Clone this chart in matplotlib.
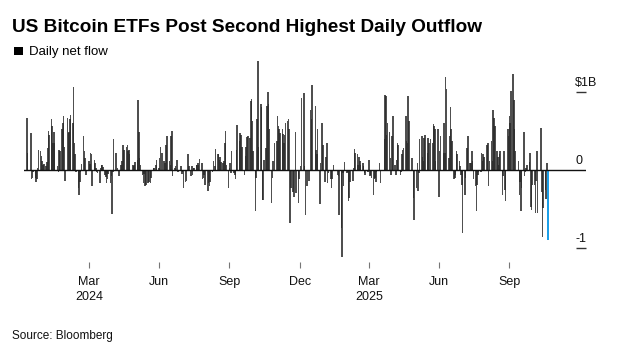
import matplotlib
matplotlib.use("Agg")
import matplotlib.pyplot as plt
import matplotlib.dates as mdates
from matplotlib.patches import Rectangle
from matplotlib.transforms import blended_transform_factory
import pandas as pd
import numpy as np

# ---- Daily net flow, $B, per month (trading days) ----
flows_2024_01 = [0.67, 0.22, 0.47, -0.12, -0.10, -0.02, -0.10, -0.15, -0.12, 0.02, 0.25, 0.24, 0.18, 0.12]
flows_2024_02 = [0.07, 0.08, 0.05, 0.10, 0.28, 0.50, 0.45, 0.65, 0.56, 0.35, 0.49, 0.34, 0.05, -0.02, 0.26, 0.24, 0.53, 0.60, 0.69, 0.30]
flows_2024_03 = [-0.14, 0.67, 0.47, 0.49, 0.65, 0.70, 0.60, 1.06, 0.35, 0.20, -0.02, -0.23, -0.32, -0.15, -0.03, 0.08, 0.43, 0.24, 0.15, -0.06]
flows_2024_04 = [0.11, 0.08, 0.22, 0.20, -0.21, 0.13, 0.09, 0.03, -0.02, -0.04, -0.16, 0.03, 0.06, 0.07, 0.04, -0.06, -0.09, -0.16, -0.12, -0.05, -0.16, -0.08]
flows_2024_05 = [-0.56, -0.02, 0.39, 0.22, 0.00, 0.02, -0.01, -0.08, 0.07, 0.11, 0.32, 0.26, 0.25, 0.30, 0.32, 0.24, 0.26, 0.20, 0.06, 0.05, 0.06, 0.10]
flows_2024_06 = [0.13, 0.89, 0.49, 0.15, 0.07, -0.06, -0.17, -0.05, -0.20, -0.19, -0.17, -0.15, -0.17, -0.10, 0.03, 0.02, 0.00, 0.07, 0.13]
flows_2024_07 = [0.03, 0.15, 0.30, 0.22, 0.11, 0.09, 0.32, 0.32, 0.43, 0.11, 0.07, 0.44, 0.50, -0.08, 0.03, 0.05, 0.00, 0.13, -0.02, 0.00, 0.05, -0.05]
flows_2024_08 = [-0.02, -0.23, -0.15, -0.14, 0.00, 0.20, 0.05, -0.08, 0.05, -0.07, 0.03, 0.03, 0.07, 0.07, 0.09, 0.07, 0.14, 0.09, -0.12, -0.10, -0.07, -0.19]
flows_2024_09 = [-0.27, -0.17, -0.21, -0.15, -0.03, 0.12, 0.00, 0.05, 0.27, 0.20, 0.20, 0.13, 0.17, 0.10, 0.09, 0.11, 0.35, 0.50, 0.07, -0.23]
flows_2024_10 = [0.03, 0.09, -0.04, 0.24, -0.04, -0.06, -0.11, 0.26, 0.57, 0.37, 0.47, 0.45, 0.30, 0.30, -0.07, 0.18, 0.30, 0.42, 0.43, 0.41, 0.88, 0.91, 0.62]
flows_2024_11 = [0.24, -0.53, -0.10, 0.65, 1.39, 0.30, 0.84, 0.81, -0.38, -0.38, 0.13, 0.28, 0.82, 1.00, 0.84, 0.52, -0.42, -0.10, 0.11, 0.35]
flows_2024_12 = [0.37, 0.69, 0.56, 0.52, 0.47, 0.52, 0.46, 0.35, 0.45, 0.60, 0.62, 0.65, 0.52, -0.68, -0.23, -0.28, -0.34, 0.49, -0.29, -0.42, -0.12]
flows_2025_01 = [0.05, 0.92, 0.98, 0.05, -0.57, -0.21, -0.14, 0.00, 0.77, 0.65, 1.09, 0.82, 0.26, 0.20, 0.53, -0.44, 0.09, 0.00, 0.60, 0.32]
flows_2025_02 = [-0.15, 0.17, 0.35, -0.17, -0.04, -0.12, -0.23, -0.12, 0.00, 0.07, 0.00, -0.06, -0.08, -0.57, -0.74, -1.11, -0.04, -0.21, 0.10]
flows_2025_03 = [-0.04, -0.02, -0.40, -0.36, -0.15, 0.00, -0.14, 0.03, 0.27, 0.22, 0.20, 0.07, 0.17, 0.11, 0.07, 0.09, 0.05, -0.04, -0.06, 0.00, -0.03]
flows_2025_04 = [0.13, -0.08, -0.06, -0.10, -0.32, -0.12, -0.10, -0.15, -0.02, 0.00, 0.09, -0.16, 0.00, 0.39, 0.96, 0.94, 0.45, 0.60, 0.49, 0.15, -0.06]
flows_2025_05 = [0.43, 0.69, 0.07, -0.06, 0.13, 0.35, 0.32, -0.07, -0.02, 0.20, 0.26, 0.28, 0.69, 0.37, 0.35, 0.94, 0.62, 0.15, 0.00, -0.36, -0.64]
flows_2025_06 = [-0.23, 0.09, -0.27, -0.04, 0.39, 0.44, 0.17, 0.11, 0.41, 0.45, 0.22, 0.41, 0.35, 0.39, 0.35, 0.59, 0.56, 0.52, 0.11, 0.52]
flows_2025_07 = [-0.34, 0.24, 0.43, 0.22, 0.60, 0.22, 1.19, 1.04, 0.15, 0.43, 0.81, 0.52, 0.37, -0.12, -0.10, -0.06, 0.24, 0.20, 0.11, 0.05, -0.06, -0.19]
flows_2025_08 = [-0.81, -0.32, -0.10, 0.00, 0.28, 0.43, 0.09, 0.09, 0.24, 0.11, -0.12, -0.21, -0.53, -0.19, -0.06, -0.02, -0.02, 0.22, 0.11, 0.20, 0.17]
flows_2025_09 = [0.32, 0.35, -0.21, 0.11, 0.37, 0.11, 0.77, 0.66, 0.56, 0.24, 0.17, 0.07, 0.20, 0.24, -0.32, -0.08, 0.24, -0.25, -0.40, 0.52, 0.43]
flows_2025_10 = [0.69, 0.60, 1.01, 1.22, 0.90, 0.52, 0.24, 0.00, 0.11, -0.32, -0.15, -0.52, -0.23, 0.49, -0.08, -0.02, 0.03, 0.07, 0.10, 0.22, -0.47, -0.51, -0.19]
flows_2025_11 = [-0.19, -0.55, -0.14, 0.24, -0.55, 0.00, 0.54, -0.28, -0.86, -0.49, -0.25, -0.37, 0.09, -0.89]

monthly = [flows_2024_01, flows_2024_02, flows_2024_03, flows_2024_04, flows_2024_05,
           flows_2024_06, flows_2024_07, flows_2024_08, flows_2024_09, flows_2024_10,
           flows_2024_11, flows_2024_12, flows_2025_01, flows_2025_02, flows_2025_03,
           flows_2025_04, flows_2025_05, flows_2025_06, flows_2025_07, flows_2025_08,
           flows_2025_09, flows_2025_10, flows_2025_11]

start_date = "2024-01-11"
end_date = "2025-11-20"
market_holidays = ["2024-01-15", "2024-02-19", "2024-03-29", "2024-05-27", "2024-06-19",
                   "2024-07-04", "2024-09-02", "2024-11-28", "2024-12-25",
                   "2025-01-01", "2025-01-09", "2025-01-20", "2025-02-17", "2025-04-18",
                   "2025-05-26", "2025-06-19", "2025-07-04", "2025-09-01"]

tick_dates = ["2024-04-01", "2024-07-01", "2024-10-01", "2025-01-01",
              "2025-04-01", "2025-07-01", "2025-10-01"]
tick_labels = ["Mar\n2024", "Jun", "Sep", "Dec", "Mar\n2025", "Jun", "Sep"]

ytick_values = [1, 0, -1]
ytick_labels = ["$1B", "0", "-1"]

title = "US Bitcoin ETFs Post Second Highest Daily Outflow"
legend_label = "Daily net flow"
source = "Source: Bloomberg"

# ---- build series ----
days = pd.bdate_range(start_date, end_date)
days = days[~days.isin(pd.to_datetime(market_holidays))]
values = []
for (y, m), grp in zip(sorted(set((d.year, d.month) for d in days)), monthly):
    n = ((days.year == y) & (days.month == m)).sum()
    if n != len(grp):
        raise ValueError(f"{y}-{m}: {n} days vs {len(grp)} values")
    values.extend(grp)
values = np.array(values)

W, H = 640, 356
fig = plt.figure(figsize=(W / 100, H / 100), dpi=100)
plt.rcParams['font.family'] = ['Liberation Sans', 'DejaVu Sans']

ax_left_px, ax_right_px = 24, 586
ax_top_px, ax_bot_px = 58, 262
ax = fig.add_axes([ax_left_px / W, 1 - ax_bot_px / H,
                   (ax_right_px - ax_left_px) / W, (ax_bot_px - ax_top_px) / H])

bar_color = "#2a2a2a"
highlight = "#1c9fe8"
ax.bar(days[:-1], values[:-1], width=2.0, color=bar_color, alpha=0.82, linewidth=0, zorder=2)
ax.bar(days[-1:], values[-1:], width=2.3, color=highlight, linewidth=0, zorder=2.5)
ax.axhline(0, color="#111111", lw=1.0, zorder=3)

d0 = mdates.date2num(pd.Timestamp(start_date))
px_per_day = 0.767
first_px = 26.9
ax.set_xlim(d0 + (ax_left_px - first_px) / px_per_day, d0 + (ax_right_px - first_px) / px_per_day)
zero_px, unit_px = 170.0, 78.3
ax.set_ylim(-(ax_bot_px - zero_px) / unit_px, (zero_px - ax_top_px) / unit_px)

for s in ax.spines.values():
    s.set_visible(False)

ax.set_xticks(pd.to_datetime(tick_dates))
ax.set_xticklabels(tick_labels, fontsize=9, color="#111111")
for t in ax.get_xticklabels():
    t.set_linespacing(1.3)
ax.tick_params(axis="x", length=4, width=0.8, color="#777777", pad=6)

ax.yaxis.tick_right()
ax.set_yticks([v for v in ytick_values if v != 0])
ax.set_yticklabels([])
ax.tick_params(axis="y", direction="in", length=7.2, width=1.0, color="#333333", pad=0)

trans = blended_transform_factory(ax.transAxes, ax.transData)
xlab = (575 - ax_left_px) / (ax_right_px - ax_left_px)
for v, lab in zip(ytick_values, ytick_labels):
    ax.annotate(lab, xy=(xlab, v), xycoords=trans, xytext=(0, 6), textcoords="offset pixels",
                ha="left", va="baseline", fontsize=9, color="#111111")

fig.text(12 / W, 1 - 31.7 / H, title, fontsize=13.7, fontweight="bold", ha="left", va="baseline")
fig.patches.append(Rectangle((14 / W, 1 - 55 / H), 8.5 / W, 8.5 / H, transform=fig.transFigure,
                             facecolor="black", edgecolor="none"))
fig.text(29 / W, 1 - 55 / H, legend_label, fontsize=9.5, ha="left", va="baseline")
fig.text(12 / W, 1 - 339 / H, source, fontsize=8.5, ha="left", va="baseline", color="#111111")

fig.savefig("out.png", dpi=100)
